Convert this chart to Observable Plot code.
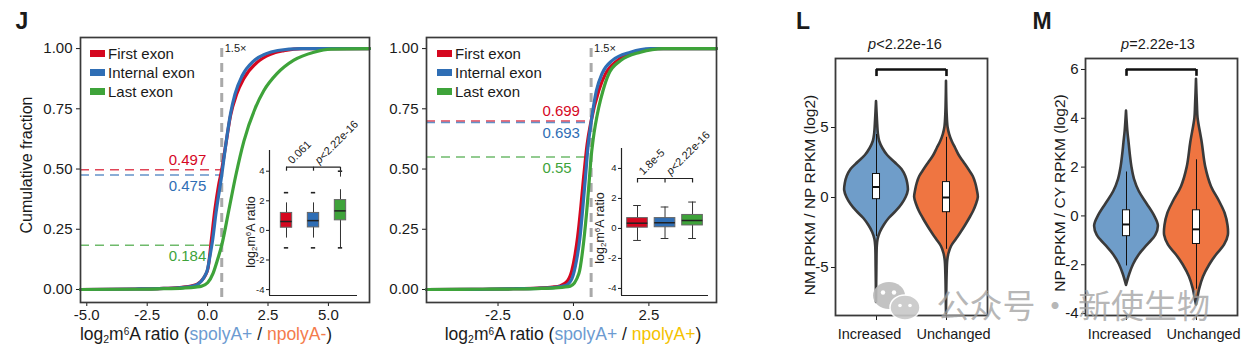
<!DOCTYPE html>
<html><head><meta charset="utf-8">
<script src="https://cdn.jsdelivr.net/npm/d3@7"></script>
<script src="https://cdn.jsdelivr.net/npm/@observablehq/plot@0.6"></script>
<style>
body{margin:0;background:#fff;}
#fig{position:relative;width:1256px;height:359px;overflow:hidden;font-family:"Liberation Sans",Arial,sans-serif;color:#1a1a1a;background:#fff}
#fig svg{position:absolute;overflow:visible;background:transparent}
.t{position:absolute;white-space:nowrap;line-height:1;transform:translate(-50%,-50%)}
.r{transform:translate(-50%,-50%) rotate(-90deg)}
.lg{position:absolute;white-space:nowrap;line-height:1;font-size:15px;transform:translateY(-50%)}
.sw{position:absolute;width:15px;height:7px}
.wm{position:absolute;white-space:nowrap;line-height:0.9;transform:translate(-50%,-50%);font-size:33px;font-family:"Noto Sans CJK SC";color:rgba(160,160,160,0.75)}
</style></head><body><div id="fig"></div>
<script>
const FONT = '"Liberation Sans", Arial, sans-serif';
// ---------- Panel J data ----------
const exons = ["First exon", "Internal exon", "Last exon"];
const exonColors = ["#d5071f", "#2f6eb5", "#3ea33a"];
const foldCut = 0.585; // log2(1.5), the "1.5×" line

const j1First = [[-5.26,0],[-3,0.002],[-2,0.004],[-1.2,0.008],[-0.6,0.016],[-0.3,0.032],[-0.1,0.058],[0.02,0.09],[0.15,0.2],[0.3,0.33],[0.45,0.43],[0.585,0.497],[0.75,0.6],[0.95,0.722],[1.2,0.81],[1.5,0.876],[2.05,0.943],[2.6,0.976],[3.15,0.991],[3.95,1],[6.7,1]];
const j1Internal = [[-5.26,0],[-3,0.002],[-2,0.004],[-1.2,0.007],[-0.7,0.012],[-0.4,0.022],[-0.15,0.05],[0,0.085],[0.1,0.14],[0.2,0.2],[0.35,0.32],[0.585,0.475],[0.75,0.6],[0.95,0.73],[1.13,0.81],[1.43,0.887],[1.9,0.948],[2.4,0.978],[2.9,0.992],[3.85,1],[6.7,1]];
const j1Last = [[-5.26,0],[-3,0.001],[-2,0.003],[-1,0.006],[-0.5,0.01],[-0.25,0.014],[0,0.028],[0.23,0.068],[0.4,0.12],[0.585,0.184],[0.88,0.33],[1.16,0.47],[1.5,0.615],[1.98,0.755],[2.33,0.826],[2.88,0.897],[3.57,0.952],[4.4,0.985],[5.1,0.998],[6.7,1]];
const j1Cutoffs = [{exon:"First exon",frac:0.497},{exon:"Internal exon",frac:0.475},{exon:"Last exon",frac:0.184}];

const j2First = [[-4.87,0],[-3,0.001],[-2,0.003],[-1.2,0.006],[-0.7,0.01],[-0.43,0.016],[-0.2,0.035],[-0.05,0.08],[0.06,0.15],[0.14,0.22],[0.25,0.35],[0.34,0.47],[0.45,0.6],[0.585,0.699],[0.84,0.826],[1.06,0.895],[1.45,0.95],[2.1,0.985],[2.77,1],[4.74,1]];
const j2Internal = [[-4.87,0],[-3,0.001],[-2,0.003],[-1.2,0.005],[-0.6,0.009],[-0.26,0.016],[-0.05,0.045],[0.1,0.12],[0.21,0.21],[0.31,0.34],[0.4,0.47],[0.48,0.59],[0.585,0.693],[0.76,0.826],[0.95,0.897],[1.28,0.95],[1.89,0.985],[2.55,1],[4.74,1]];
const j2Last = [[-4.87,0],[-3,0.001],[-2,0.002],[-1.2,0.004],[-0.6,0.007],[-0.1,0.014],[0.18,0.066],[0.34,0.2],[0.45,0.34],[0.54,0.48],[0.585,0.55],[0.65,0.62],[0.84,0.757],[0.98,0.826],[1.17,0.895],[1.56,0.95],[2.22,0.985],[2.98,1],[4.74,1]];
const j2Cutoffs = [{exon:"First exon",frac:0.699},{exon:"Internal exon",frac:0.693},{exon:"Last exon",frac:0.55}];

const cdfXTicks1 = [-5, -2.5, 0, 2.5, 5];
const cdfXTicks2 = [-2.5, 0, 2.5];
const cdfYTicks = [0, 0.25, 0.5, 0.75, 1];
const insetYTicks = [-4, -2, 0, 2, 4];

const j1Boxes = [
  {exon:"First exon", lo:-0.52, q1:0.18, med:0.6, q3:1.18, hi:1.86},
  {exon:"Internal exon", lo:-0.52, q1:0.2, med:0.66, q3:1.18, hi:1.86},
  {exon:"Last exon", lo:-1.18, q1:0.68, med:1.32, q3:2.05, hi:2.75}
];
const j1Outliers = [
  {exon:"First exon", y:2.55},{exon:"First exon", y:-1.18},
  {exon:"Internal exon", y:2.55},{exon:"Internal exon", y:-1.18},
  {exon:"Last exon", y:4.0},{exon:"Last exon", y:-1.18}
];
const j1OutlierRuns = [{exon:"Last exon", y1:3.6, y2:4.0}];
const j1Tests = [{from:"First exon", label:"0.061", italicP:false},{from:"Internal exon", label:"<2.22e-16", italicP:true}];

const j2Boxes = [
  {exon:"First exon", lo:-0.8, q1:0.05, med:0.35, q3:0.69, hi:1.53},
  {exon:"Internal exon", lo:-0.67, q1:0.08, med:0.38, q3:0.69, hi:1.43},
  {exon:"Last exon", lo:-0.67, q1:0.2, med:0.53, q3:0.9, hi:1.76}
];
const j2Tests = [{from:"First exon", label:"1.8e-5", italicP:false},{from:"Internal exon", label:"<2.22e-16", italicP:true}];

// ---------- Panels L / M data ----------
const groups = ["Increased", "Unchanged"];
const groupColors = ["#6f9dc9", "#ef7541"];
// [y, relative half-width]
const lViolinIncreased = [[6.85,0],[5.5,0.03],[4.5,0.06],[4,0.1],[3.5,0.2],[3,0.35],[2.5,0.58],[2,0.8],[1.5,0.92],[1,0.98],[0.5,1.0],[0,0.93],[-0.5,0.8],[-1,0.62],[-1.5,0.4],[-2,0.24],[-2.5,0.12],[-3,0.05],[-3.5,0.025],[-5,0.012],[-7.5,0]];
const lViolinUnchanged = [[8.3,0],[6,0.02],[5,0.05],[4.5,0.1],[4,0.18],[3.5,0.29],[3,0.4],[2.5,0.55],[2,0.7],[1.5,0.84],[1,0.92],[0.5,0.97],[0,1.0],[-0.5,0.94],[-1,0.85],[-1.5,0.73],[-2,0.6],[-2.5,0.46],[-3,0.31],[-3.5,0.16],[-4,0.08],[-4.5,0.04],[-5.5,0.02],[-8.3,0]];
const mViolinIncreased = [[4.3,0],[3.5,0.04],[3,0.08],[2.5,0.12],[2,0.17],[1.5,0.25],[1,0.4],[0.5,0.64],[0,0.88],[-0.4,1.0],[-0.8,0.92],[-1.2,0.66],[-1.6,0.4],[-2,0.22],[-2.4,0.1],[-2.85,0]];
const mViolinUnchanged = [[5.6,0],[4.5,0.03],[4,0.05],[3,0.18],[2,0.29],[1.2,0.47],[0.6,0.72],[0.1,0.9],[-0.4,0.99],[-0.8,1.0],[-1.2,0.88],[-1.6,0.63],[-2,0.42],[-2.5,0.22],[-3,0.1],[-3.4,0.04],[-3.65,0]];
const lBoxes = [
  {group:"Increased", lo:-2.8, q1:-0.12, med:0.75, q3:1.68, hi:4.5},
  {group:"Unchanged", lo:-3.7, q1:-1.05, med:0, q3:1.1, hi:4.3}
];
const mBoxes = [
  {group:"Increased", lo:-2.05, q1:-0.83, med:-0.35, q3:0.23, hi:1.8},
  {group:"Unchanged", lo:-3.0, q1:-1.15, med:-0.55, q3:0.23, hi:2.3}
];
const lYTicks = [-5, 0, 5];
const mYTicks = [-4, -2, 0, 2, 4, 6];

// ---------- builders ----------
const fig = document.getElementById("fig");
function put(node, left, top){ node.style.left = left + "px"; node.style.top = top + "px"; fig.appendChild(node); return node; }
function html(cls, left, top, inner, css){ const d = document.createElement("div"); d.className = cls; d.innerHTML = inner; if (css) d.style.cssText += css; return put(d, left, top); }

function cdfPlot(o){
  const x0 = o.xDomain[0], y0 = -0.054;
  return Plot.plot({
    width:o.width, height:359, marginLeft:o.ml, marginRight:o.mr, marginTop:37, marginBottom:57,
    style:{fontSize:"15px", fontFamily:FONT, color:"#1a1a1a", background:"transparent", overflow:"visible"},
    x:{domain:o.xDomain, ticks:o.xTicks, tickFormat:d=>d.toFixed(1), label:null, tickSize:4, tickPadding:3},
    y:{domain:[y0,1.046], ticks:cdfYTicks, tickFormat:d=>d.toFixed(2), label:null, tickSize:4, tickPadding:4},
    color:{domain:exons, range:exonColors},
    marks:[
      Plot.ruleY(o.cutoffs, {y:"frac", x1:()=>x0, x2:()=>foldCut, stroke:"exon", strokeWidth:1.5, strokeDasharray:"9,6", strokeOpacity:0.75}),
      Plot.ruleX([foldCut], {y1:()=>1, y2:()=>y0, stroke:"#a9a9a9", strokeWidth:3, strokeDasharray:"9,6"}),
      ...o.curves.map((c,i)=>Plot.line(c, {x:d=>d[0], y:d=>d[1], stroke:exonColors[i], strokeWidth:3.2, curve:"monotone-x"})),
      Plot.text(o.cutoffs, {filter:d=>d.exon==="First exon", x:()=>o.labelX, y:"frac", text:d=>String(d.frac), fill:"exon", textAnchor:"start", dy:-10, fontSize:15}),
      Plot.text(o.cutoffs, {filter:d=>d.exon!=="First exon", x:()=>o.labelX, y:"frac", text:d=>String(d.frac), fill:"exon", textAnchor:"start", dy:11, fontSize:15}),
      Plot.text(["1.5×"], {x:()=>foldCut, y:()=>1, text:d=>d, textAnchor:"start", dx:3, fontSize:11, fill:"#1a1a1a"}),
      Plot.frame({stroke:"#3a3a3a", strokeWidth:1.7})
    ]
  });
}

function insetPlot(o){
  const pos = d => exons.indexOf(d.exon) + 1;
  const tpos = d => exons.indexOf(d.from) + 1;
  const marks = [
    Plot.ruleX([o.xDomain[0]], {stroke:"#222", strokeWidth:1.2}),
    Plot.ruleY([o.yDomain[0]], {stroke:"#222", strokeWidth:1.2}),
    Plot.ruleX(o.boxes, {x:pos, y1:"lo", y2:"hi", stroke:"#333", strokeWidth:1})
  ];
  if (o.caps) {
    marks.push(Plot.ruleY(o.boxes, {y:"lo", x1:d=>pos(d)-o.caps, x2:d=>pos(d)+o.caps, stroke:"#333", strokeWidth:1}));
    marks.push(Plot.ruleY(o.boxes, {y:"hi", x1:d=>pos(d)-o.caps, x2:d=>pos(d)+o.caps, stroke:"#333", strokeWidth:1}));
  }
  marks.push(
    Plot.rect(o.boxes, {x1:d=>pos(d)-o.hw, x2:d=>pos(d)+o.hw, y1:"q1", y2:"q3", fill:"exon", stroke:"#666", strokeWidth:1}),
    Plot.ruleY(o.boxes, {y:"med", x1:d=>pos(d)-o.hw, x2:d=>pos(d)+o.hw, stroke:"#222", strokeWidth:1.5})
  );
  if (o.outliers) marks.push(Plot.ruleY(o.outliers, {y:"y", x1:d=>pos(d)-0.08, x2:d=>pos(d)+0.08, stroke:"#222", strokeWidth:1.6}));
  if (o.runs) marks.push(Plot.ruleX(o.runs, {x:pos, y1:"y1", y2:"y2", stroke:"#333", strokeWidth:1}));
  marks.push(
    Plot.ruleY([o.bracketY], {x1:()=>1, x2:()=>3, stroke:"#222", strokeWidth:1.2}),
    Plot.ruleX(exons, {x:(d,i)=>i+1, y1:()=>o.bracketY, y2:()=>o.bracketY-o.tick, stroke:"#222", strokeWidth:1.2}),
    Plot.text(o.tests, {filter:d=>!d.italicP, x:d=>tpos(d)+0.12, y:()=>o.labelY, text:"label", rotate:-45, textAnchor:"start", fontSize:11, fill:"#1a1a1a"}),
    Plot.text(o.tests, {filter:d=>d.italicP, x:d=>tpos(d)+0.12, y:()=>o.labelY, text:()=>"p", fontStyle:"italic", rotate:-45, textAnchor:"start", fontSize:11, fill:"#1a1a1a"}),
    Plot.text(o.tests, {filter:d=>d.italicP, x:d=>tpos(d)+0.12, y:()=>o.labelY, text:"label", rotate:-45, textAnchor:"start", dx:4.4, dy:-4.4, fontSize:11, fill:"#1a1a1a"})
  );
  return Plot.plot({
    width:150, height:200, marginLeft:o.ml, marginRight:o.mr, marginTop:o.mt, marginBottom:5,
    style:{fontSize:"9.5px", fontFamily:FONT, color:"#1a1a1a", background:"transparent", overflow:"visible"},
    x:{domain:o.xDomain, axis:null},
    y:{domain:o.yDomain, ticks:insetYTicks, tickFormat:d=>String(d), label:null, tickSize:3, tickPadding:2},
    color:{domain:exons, range:exonColors},
    marks
  });
}

function violinPlot(o){
  const W = 0.455;
  const pos = d => groups.indexOf(d.group) + 1;
  const yb = o.yDomain[0];
  return Plot.plot({
    width:o.width, height:359, marginLeft:75, marginRight:o.mr, marginTop:58, marginBottom:44,
    style:{fontSize:"15px", fontFamily:FONT, color:"#1a1a1a", background:"transparent", overflow:"visible"},
    x:{domain:[0.414,2.586], ticks:[1,2], tickFormat:()=>"", label:null, tickSize:5, tickPadding:4},
    y:{domain:o.yDomain, ticks:o.yTicks, tickFormat:d=>String(d), label:null, tickSize:4, tickPadding:3},
    marks:[
      ...o.violins.map((v,i)=>Plot.areaX(v, {y:d=>d[0], x1:d=>i+1-d[1]*W, x2:d=>i+1+d[1]*W, fill:groupColors[i], stroke:"#3a3a3a", strokeWidth:2.6, curve:"catmull-rom"})),
      Plot.ruleX(o.boxes, {x:pos, y1:"lo", y2:"hi", stroke:"#111", strokeWidth:1}),
      Plot.rect(o.boxes, {x1:d=>pos(d)-0.05, x2:d=>pos(d)+0.05, y1:"q1", y2:"q3", fill:"white", stroke:"#111", strokeWidth:1}),
      Plot.ruleY(o.boxes, {y:"med", x1:d=>pos(d)-0.05, x2:d=>pos(d)+0.05, stroke:"#111", strokeWidth:2}),
      Plot.ruleY([o.bracketY], {x1:()=>1, x2:()=>2, stroke:"#111", strokeWidth:2.6}),
      Plot.ruleX(groups, {x:(d,i)=>i+1, y1:()=>o.bracketY, y2:()=>o.bracketY-o.tick, stroke:"#111", strokeWidth:2.6}),
      Plot.text(groups, {filter:d=>d==="Increased", x:(d)=>groups.indexOf(d)+1, y:()=>yb, text:d=>d, dy:19, dx:-7, fontSize:14.5, fill:"#1a1a1a"}),
      Plot.text(groups, {filter:d=>d==="Unchanged", x:(d)=>groups.indexOf(d)+1, y:()=>yb, text:d=>d, dy:19, dx:7, fontSize:14.5, fill:"#1a1a1a"}),
      Plot.frame({stroke:"#3a3a3a", strokeWidth:1.8})
    ]
  });
}

// ---------- assemble ----------
put(cdfPlot({width:375, ml:80, mr:6, xDomain:[-5.26,6.7], xTicks:cdfXTicks1, curves:[j1First,j1Internal,j1Last], cutoffs:j1Cutoffs, labelX:-1.61}), 0, 0);
put(cdfPlot({width:340, ml:46, mr:4, xDomain:[-4.87,4.74], xTicks:cdfXTicks2, curves:[j2First,j2Internal,j2Last], cutoffs:j2Cutoffs, labelX:-1.03}), 380, 0);
put(insetPlot({ml:49, mr:13, mt:50, xDomain:[0.37,3.63], yDomain:[-4.4,5.4], boxes:j1Boxes, hw:0.21, caps:0, outliers:j1Outliers, runs:j1OutlierRuns, bracketY:4.27, tick:0.27, labelY:4.62, tests:j1Tests}), 220, 100);
put(insetPlot({ml:51, mr:12, mt:48, xDomain:[0.418,3.58], yDomain:[-4.47,5.33], boxes:j2Boxes, hw:0.375, caps:0.14, bracketY:3.33, tick:0.3, labelY:3.7, tests:j2Tests}), 570, 100);
put(violinPlot({width:240, mr:13, yDomain:[-8.43,9.93], yTicks:lYTicks, violins:[lViolinIncreased,lViolinUnchanged], boxes:lBoxes, bracketY:9.14, tick:0.5}), 760, 0);
put(violinPlot({width:246, mr:19, yDomain:[-4.08,6.45], yTicks:mYTicks, violins:[mViolinIncreased,mViolinUnchanged], boxes:mBoxes, bracketY:6.0, tick:0.28}), 1010, 0);

// panel letters & titles
html("t", 22, 21, "J", "font-size:23px;font-weight:bold");
html("t", 803, 21, "L", "font-size:23px;font-weight:bold");
html("t", 1042, 21, "M", "font-size:23px;font-weight:bold");
html("t", 905, 44, "<i>p</i>&lt;2.22e-16", "font-size:14.5px");
html("t", 1158, 44, "<i>p</i>=2.22e-13", "font-size:14.5px");
// axis titles
html("t r", 27, 165, "Cumulative fraction", "font-size:16px");
html("t", 206, 335, 'log<sub style="font-size:10.5px;vertical-align:-3px">2</sub>m<sup style="font-size:10px;vertical-align:5px">6</sup>A ratio (<span style="color:#6c9bd1">spolyA+</span> / <span style="color:#f47b4c">npolyA-</span>)', "font-size:17.5px");
html("t", 573, 335, 'log<sub style="font-size:10.5px;vertical-align:-3px">2</sub>m<sup style="font-size:10px;vertical-align:5px">6</sup>A ratio (<span style="color:#6c9bd1">spolyA+</span> / <span style="color:#f5c200">npolyA+</span>)', "font-size:17.5px");
html("t r", 252, 232, 'log<sub style="font-size:8px;vertical-align:-2px">2</sub>m<sup style="font-size:8px;vertical-align:4px">6</sup>A ratio', "font-size:12.5px");
html("t r", 601, 228, 'log<sub style="font-size:8px;vertical-align:-2px">2</sub>m<sup style="font-size:8px;vertical-align:4px">6</sup>A ratio', "font-size:12.5px");
html("t r", 810, 195, "NM RPKM / NP RPKM (log2)", "font-size:15.5px");
html("t r", 1060, 193, "NP RPKM / CY RPKM (log2)", "font-size:15.5px");
// legends
[[90,108],[437,455]].forEach(([sx,tx]) => {
  exons.forEach((e,i) => {
    const y = 53 + i*19;
    const s = document.createElement("div"); s.className = "sw"; s.style.background = exonColors[i]; put(s, sx, y-3.5);
    html("lg", tx, y, e);
  });
});
// watermark
html("t", 897, 303, '<svg width="50" height="42" viewBox="0 0 50 42" style="position:static"><ellipse cx="17" cy="15" rx="16" ry="13.5" fill="#bdbdbd"/><ellipse cx="33" cy="27" rx="15" ry="12.5" fill="#c8c8c8" stroke="#fff" stroke-width="1.5"/><circle cx="11" cy="12" r="2.2" fill="#fff"/><circle cx="22" cy="12" r="2.2" fill="#fff"/><circle cx="28" cy="25" r="1.8" fill="#fff"/><circle cx="38" cy="25" r="1.8" fill="#fff"/></svg>', "opacity:0.9");
html("wm", 986, 305, "公众号");
html("wm", 1055, 305, "·");
html("wm", 1144, 305, "新使生物");
</script></body></html>
